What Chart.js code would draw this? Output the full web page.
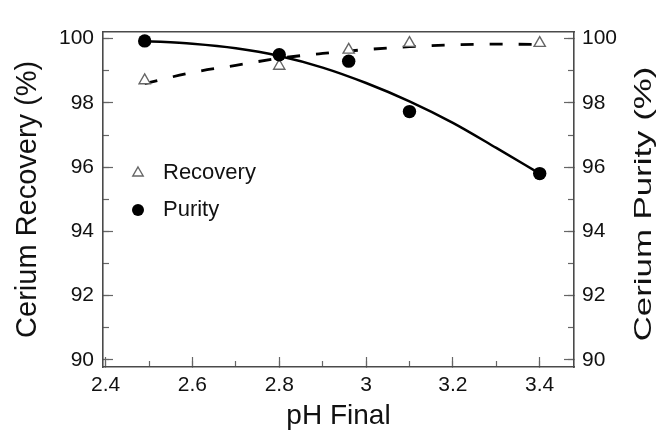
<!DOCTYPE html>
<html>
<head>
<meta charset="utf-8">
<title>Cerium recovery and purity vs final pH</title>
<script src="https://cdn.jsdelivr.net/npm/chart.js"></script>
<style>
  html, body { margin: 0; padding: 0; background: #fff; }
  #wrap { width: 660px; height: 430px; }
</style>
</head>
<body>
<div id="wrap"><canvas id="chart" width="660" height="430"></canvas></div>
<script>
// measured points
var phValues = [2.49, 2.80, 2.96, 3.10, 3.40];
var recovery = [98.7, 99.15, 99.65, 99.86, 99.86];
var purity = [99.93, 99.5, 99.3, 97.73, 95.8];

// fitted curves
var fitPh = [2.49, 2.6, 2.7, 2.8, 2.9, 3.0, 3.1, 3.2, 3.3, 3.4];
var recoveryFit = [98.6, 98.95, 99.17, 99.39, 99.54, 99.66, 99.75, 99.81, 99.83, 99.82];
var purityFit = [99.93, 99.84, 99.7, 99.46, 99.1, 98.62, 98.05, 97.38, 96.6, 95.8];

var xLabel = "pH Final";
var yLeftLabel = "Cerium Recovery (%)";
var yRightLabel = "Cerium Purity (%)";
var seriesNames = ["Recovery", "Purity"];

var FONT = "'Liberation Sans', Arial, sans-serif";
var AXIS = "#4a4a4a";
var TICK = "#666";

function pts(xs, ys) {
  return xs.map(function(x, i) { return { x: x, y: ys[i] }; });
}

function fixWidth(w) { return function(s) { s.width = w; }; }
function fixHeight(h) { return function(s) { s.height = h; }; }

var xRange = { min: 2.394, max: 3.479 };
var yRange = { min: 89.78, max: 100.22 };

// right axis title reads bottom to top and is drawn stretched, so do it by hand
var rightTitle = {
  id: "rightTitle",
  afterDraw: function(chart) {
    var ctx = chart.ctx;
    ctx.save();
    ctx.translate(644, 204);
    ctx.rotate(-Math.PI / 2);
    ctx.scale(1.45, 1);
    ctx.font = "24px " + FONT;
    ctx.fillStyle = "#111";
    ctx.textAlign = "center";
    ctx.textBaseline = "middle";
    ctx.fillText(yRightLabel, 0, 0);
    ctx.restore();
  }
};

// legend sits inside the plot
var insideLegend = {
  id: "insideLegend",
  afterDatasetsDraw: function(chart) {
    var ctx = chart.ctx;
    var rows = [{ ds: 0, y: 173 }, { ds: 1, y: 210 }];
    rows.forEach(function(r) {
      var ds = chart.data.datasets[r.ds];
      ctx.save();
      ctx.fillStyle = ds.pointBackgroundColor;
      ctx.strokeStyle = ds.pointBorderColor;
      ctx.lineWidth = ds.pointBorderWidth;
      Chart.helpers.drawPoint(ctx, {
        pointStyle: ds.pointStyle, radius: 6,
        borderWidth: ds.pointBorderWidth, rotation: 0
      }, 138, r.y);
      ctx.fillStyle = "#111";
      ctx.font = "22px " + FONT;
      ctx.textBaseline = "middle";
      ctx.fillText(ds.label, 163, r.y);
      ctx.restore();
    });
  }
};

var chart = new Chart(document.getElementById("chart"), {
  type: "scatter",
  data: {
    datasets: [
      {
        label: seriesNames[0],
        data: pts(phValues, recovery),
        yAxisID: "y",
        pointStyle: "triangle",
        pointRadius: 6.5,
        pointBackgroundColor: "#fff",
        pointBorderColor: "#666",
        pointBorderWidth: 1.4,
        showLine: false,
        order: 1
      },
      {
        label: seriesNames[1],
        data: pts(phValues, purity),
        yAxisID: "y1",
        pointStyle: "circle",
        pointRadius: 6.7,
        pointBackgroundColor: "#000",
        pointBorderColor: "#000",
        pointBorderWidth: 0,
        showLine: false,
        order: 0
      },
      {
        label: "Recovery fit",
        data: pts(fitPh, recoveryFit),
        yAxisID: "y",
        showLine: true,
        pointRadius: 0,
        borderColor: "#000",
        borderWidth: 2.8,
        borderDash: [13, 16],
        cubicInterpolationMode: "monotone",
        order: 2
      },
      {
        label: "Purity fit",
        data: pts(fitPh, purityFit),
        yAxisID: "y1",
        showLine: true,
        pointRadius: 0,
        borderColor: "#000",
        borderWidth: 2.5,
        cubicInterpolationMode: "monotone",
        order: 2
      }
    ]
  },
  options: {
    responsive: false,
    animation: false,
    events: [],
    layout: { padding: { left: 0, right: 0, top: 15, bottom: 0 } },
    plugins: { legend: { display: false }, tooltip: { enabled: false } },
    scales: {
      x: {
        type: "linear", position: "bottom", min: xRange.min, max: xRange.max,
        ticks: {
          stepSize: 0.2, includeBounds: false, padding: 16, color: "#111",
          font: { family: FONT, size: 21 },
          callback: function(v) { return String(Math.round(v * 10) / 10); }
        },
        grid: { drawOnChartArea: false, tickLength: -10, tickColor: TICK, tickWidth: 1.2 },
        border: { color: AXIS, width: 1.6 },
        title: { display: true, text: xLabel, color: "#111", font: { family: FONT, size: 28 }, padding: { top: 0, bottom: -3 } },
        afterFit: fixHeight(63)
      },
      xMinor: {
        type: "linear", position: "bottom", min: xRange.min, max: xRange.max, weight: -1,
        ticks: { stepSize: 0.1, includeBounds: false, display: false },
        grid: { drawOnChartArea: false, tickLength: -6, tickColor: TICK, tickWidth: 1.2 },
        border: { display: false },
        afterFit: fixHeight(0)
      },
      xTop: {
        type: "linear", position: "top", min: xRange.min, max: xRange.max,
        ticks: { display: false },
        grid: { display: false },
        border: { color: AXIS, width: 1.6 },
        afterFit: fixHeight(0)
      },
      y: {
        type: "linear", position: "left", min: yRange.min, max: yRange.max,
        ticks: { stepSize: 2, includeBounds: false, padding: 19, color: "#111", font: { family: FONT, size: 21 } },
        grid: { drawOnChartArea: false, tickLength: -10, tickColor: TICK, tickWidth: 1.2 },
        border: { color: AXIS, width: 1.6 },
        title: { display: true, text: yLeftLabel, color: "#111", font: { family: FONT, size: 29 }, padding: { top: 11, bottom: 0 } },
        afterFit: fixWidth(103)
      },
      yMinor: {
        type: "linear", position: "left", min: yRange.min, max: yRange.max, weight: -1,
        ticks: { stepSize: 1, includeBounds: false, display: false },
        grid: { drawOnChartArea: false, tickLength: -6, tickColor: TICK, tickWidth: 1.2 },
        border: { display: false },
        afterFit: fixWidth(0)
      },
      y1: {
        type: "linear", position: "right", min: yRange.min, max: yRange.max,
        ticks: { stepSize: 2, includeBounds: false, padding: 18, color: "#111", font: { family: FONT, size: 21 } },
        grid: { drawOnChartArea: false, tickLength: -10, tickColor: TICK, tickWidth: 1.2 },
        border: { color: AXIS, width: 1.6 },
        afterFit: fixWidth(86)
      },
      y1Minor: {
        type: "linear", position: "right", min: yRange.min, max: yRange.max, weight: -1,
        ticks: { stepSize: 1, includeBounds: false, display: false },
        grid: { drawOnChartArea: false, tickLength: -6, tickColor: TICK, tickWidth: 1.2 },
        border: { display: false },
        afterFit: fixWidth(0)
      }
    }
  },
  plugins: [rightTitle, insideLegend]
});
</script>
</body>
</html>
